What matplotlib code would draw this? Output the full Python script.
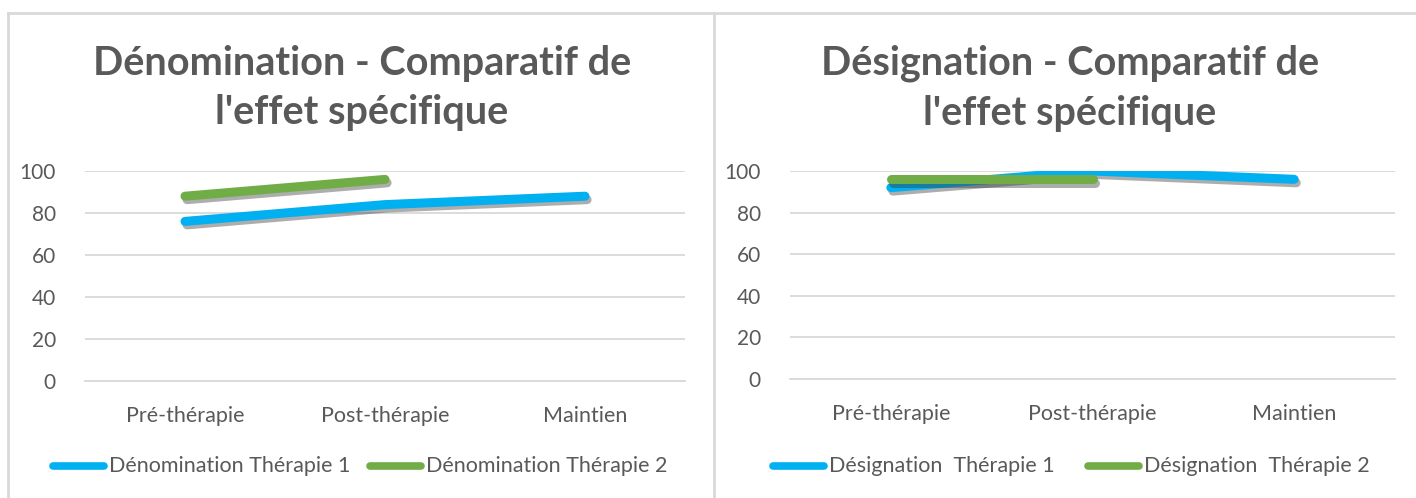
import matplotlib
matplotlib.use("Agg")
import matplotlib.pyplot as plt
import matplotlib.patheffects as pe
from matplotlib.lines import Line2D

categories = ["Pré-thérapie", "Post-thérapie", "Maintien"]

denom_t1 = [76, 84, 88]
denom_t2 = [88, 96]
desig_t1 = [92, 100, 96]
desig_t2 = [96, 96]

titles = ["Dénomination - Comparatif de\nl'effet spécifique",
          "Désignation - Comparatif de\nl'effet spécifique"]
legend_labels = [["Dénomination Thérapie 1", "Dénomination Thérapie 2"],
                 ["Désignation  Thérapie 1", "Désignation  Thérapie 2"]]

BLUE = "#00B0F0"
GREEN = "#70AD47"
TXT = "#595959"
GRID = "#D9D9D9"
FONT = "Lato"

W, H = 1416, 498
fig = plt.figure(figsize=(W / 100, H / 100), dpi=100)
fig.patch.set_facecolor("white")

def fx(px):
    return px / W

def fy(py):
    return 1 - py / H

# panel borders
border = dict(color="#D9D9D9", lw=2.0, transform=fig.transFigure)
fig.add_artist(Line2D([fx(8), fx(1416)], [fy(13), fy(13)], **border))
fig.add_artist(Line2D([fx(8), fx(8)], [fy(13), fy(498)], **border))
fig.add_artist(Line2D([fx(714), fx(714)], [fy(13), fy(498)], **border))

panels = [
    dict(ax=(85, 685, 171, 381), title_x=362, data=(denom_t1, denom_t2),
         legend_x=(50, 367)),
    dict(ax=(790, 1395, 171, 379), title_x=1070, data=(desig_t1, desig_t2),
         legend_x=(770, 1085)),
]

shadow = [pe.SimpleLineShadow(offset=(1.5, -2.5), shadow_color="#333333", alpha=0.4),
          pe.Normal()]

for i, p in enumerate(panels):
    l, r, t, b = p["ax"]
    ax = fig.add_axes([fx(l), fy(b), fx(r - l), fy(t) - fy(b)])
    x = list(range(len(categories)))
    s1, s2 = p["data"]
    ax.plot(x[:len(s1)], s1, color=BLUE, lw=6.5, solid_capstyle="round",
            solid_joinstyle="round", path_effects=shadow, zorder=3)
    ax.plot(x[:len(s2)], s2, color=GREEN, lw=6.5, solid_capstyle="round",
            solid_joinstyle="round", path_effects=shadow, zorder=4)
    ax.set_xlim(-0.5, 2.5)
    ax.set_ylim(0, 100)
    ax.set_yticks(range(0, 101, 20))
    ax.set_xticks(x)
    ax.set_xticklabels(categories)
    ax.grid(axis="y", color=GRID, lw=1.3)
    ax.set_axisbelow(True)
    for sp in ["top", "right", "left"]:
        ax.spines[sp].set_visible(False)
    ax.spines["bottom"].set_color(GRID)
    ax.spines["bottom"].set_linewidth(1.3)
    ax.tick_params(axis="both", length=0, colors=TXT)
    ax.tick_params(axis="y", pad=21, labelsize=15)
    ax.tick_params(axis="x", pad=18, labelsize=15.5)
    for lab in ax.get_xticklabels() + ax.get_yticklabels():
        lab.set_fontfamily(FONT)
        lab.set_color(TXT)

    fig.text(fx(p["title_x"]), fy(88), titles[i], ha="center", va="center",
             fontsize=28.5, fontweight="bold", color=TXT, family=FONT,
             linespacing=1.42)

    # legend
    ly = fy(466)
    for k, (col, lab) in enumerate(zip((BLUE, GREEN), legend_labels[i])):
        x0 = p["legend_x"][k]
        fig.add_artist(Line2D([fx(x0 + 3), fx(x0 + 54)], [ly, ly], color=col,
                              lw=5.5, solid_capstyle="round",
                              transform=fig.transFigure))
        fig.text(fx(x0 + 59), ly, lab, ha="left", va="center", fontsize=15.5,
                 color=TXT, family=FONT)

fig.savefig("out.png", dpi=100, facecolor="white")
